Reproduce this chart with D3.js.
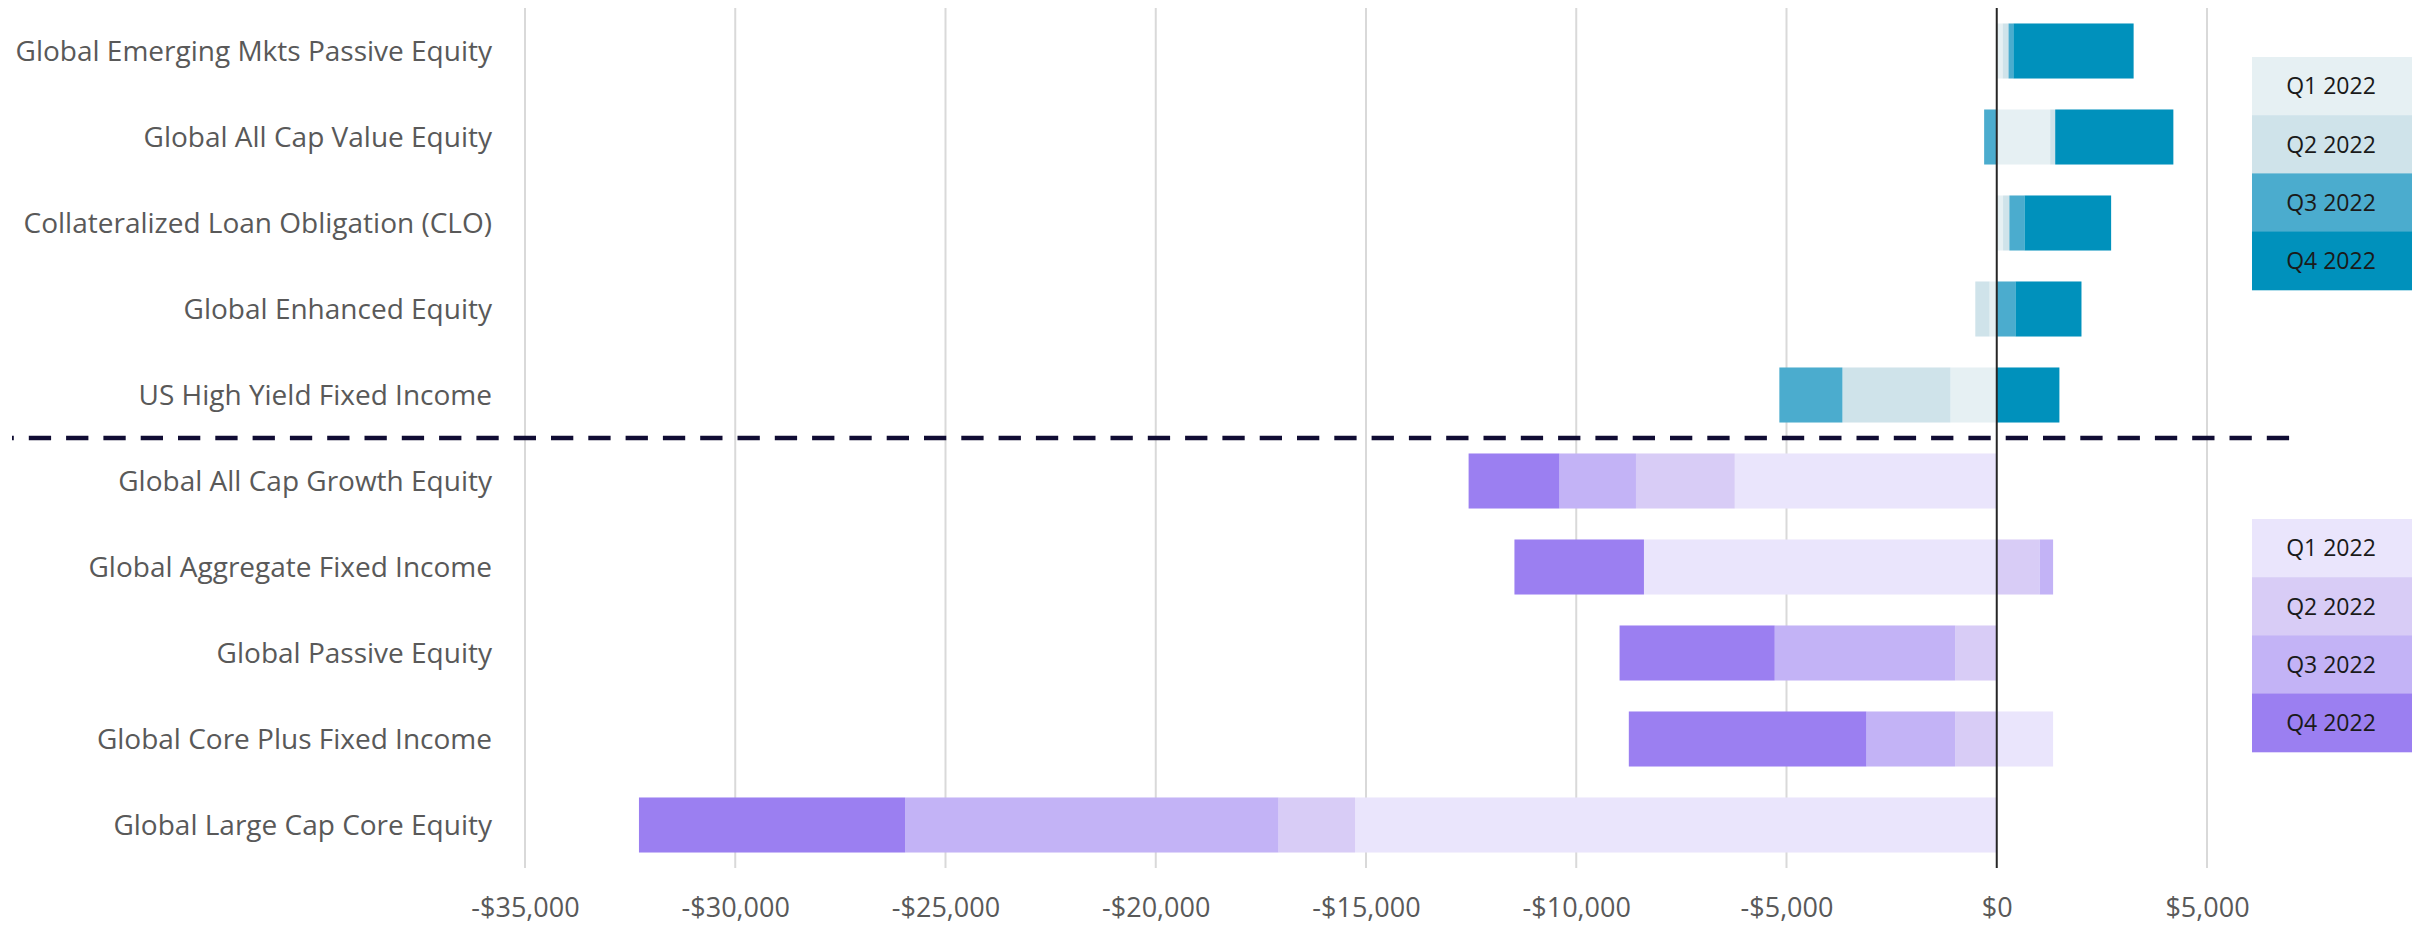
<!DOCTYPE html>
<html>
<head>
<meta charset="utf-8">
<script src="https://cdn.jsdelivr.net/npm/d3@7"></script>
<style>
  body { margin: 0; background: #fff; }
  text { font-family: "Open Sans", sans-serif; }
</style>
</head>
<body>
<div id="chart"></div>
<script>
// categories top to bottom
var categories = [
    "Global Emerging Mkts Passive Equity",
    "Global All Cap Value Equity",
    "Collateralized Loan Obligation (CLO)",
    "Global Enhanced Equity",
    "US High Yield Fixed Income",
    "Global All Cap Growth Equity",
    "Global Aggregate Fixed Income",
    "Global Passive Equity",
    "Global Core Plus Fixed Income",
    "Global Large Cap Core Equity"
];
var quarters = ["Q1 2022", "Q2 2022", "Q3 2022", "Q4 2022"];
var q1 = [140, 1270, 150, -170, -1100, -6230, -8390, 0, 1340, -15260];
var q2 = [140, 120, 150, -340, -2570, -2350, 1020, -990, -990, -1820];
var q3 = [115, -300, 360, 445, -1500, -1820, 320, -4290, -2110, -8880];
var q4 = [2860, 2810, 2060, 1570, 1490, -2160, -3080, -3690, -5650, -6330];
var groupOf = ["top", "top", "top", "top", "top", "bottom", "bottom", "bottom", "bottom", "bottom"];
var xTicks = [-35000, -30000, -25000, -20000, -15000, -10000, -5000, 0, 5000];

var palettes = {
    top: ["#e6f0f3", "#cfe3ea", "#4bacce", "#0091bc"],
    bottom: ["#eae5fc", "#d8ccf6", "#c3b3f6", "#9b7ff1"]
};

function init() {
    var W = 2412, H = 926;
    var plotTop = 8, plotBottom = 868;

    var svg = d3.select("#chart").append("svg")
        .attr("width", W)
        .attr("height", H);

    var rows = categories.map((c, i) => ({
        cat: c, group: groupOf[i],
        "Q1 2022": q1[i], "Q2 2022": q2[i], "Q3 2022": q3[i], "Q4 2022": q4[i]
    }));

    var x = d3.scaleLinear().domain([-35000, 5000]).range([525, 2207]);
    var y = d3.scaleBand().domain(categories).range([plotTop, plotBottom])
        .paddingInner(0.36).paddingOuter(0.18);

    // gridlines
    svg.append("g")
        .selectAll("line")
        .data(xTicks.filter(d => d !== 0))
        .join("line")
        .attr("x1", d => x(d)).attr("x2", d => x(d))
        .attr("y1", plotTop).attr("y2", plotBottom)
        .attr("stroke", "#d9d9d9")
        .attr("stroke-width", 2);

    // stacked bars (negatives and positives stack away from zero)
    var series = d3.stack().keys(quarters).offset(d3.stackOffsetDiverging)(rows);

    series.forEach((s, qi) => {
        svg.append("g")
            .selectAll("rect")
            .data(s)
            .join("rect")
            .attr("x", d => x(Math.min(d[0], d[1])))
            .attr("width", d => Math.abs(x(d[1]) - x(d[0])))
            .attr("y", d => y(d.data.cat))
            .attr("height", y.bandwidth())
            .attr("fill", d => palettes[d.data.group][qi]);
    });

    // zero line
    svg.append("line")
        .attr("x1", x(0)).attr("x2", x(0))
        .attr("y1", plotTop).attr("y2", plotBottom)
        .attr("stroke", "#262626")
        .attr("stroke-width", 2);

    // divider between the two groups
    var divY = (y(categories[4]) + y.bandwidth() + y(categories[5])) / 2;
    svg.append("line")
        .attr("x1", 12).attr("x2", 2292)
        .attr("y1", divY).attr("y2", divY)
        .attr("stroke", "#100c33")
        .attr("stroke-width", 4.5)
        .attr("stroke-dasharray", "22.3,15")
        .attr("stroke-dashoffset", 20.5);

    // category labels
    svg.append("g")
        .selectAll("text")
        .data(categories)
        .join("text")
        .attr("x", 492)
        .attr("y", d => y(d) + y.bandwidth() / 2)
        .attr("dy", "0.35em")
        .attr("text-anchor", "end")
        .attr("fill", "#595959")
        .style("font-size", "28px")
        .text(d => d);

    // x axis labels
    var fmt = d3.format(",");
    var xAxis = svg.append("g")
        .attr("transform", `translate(0, ${plotBottom})`)
        .call(d3.axisBottom(x).tickValues(xTicks).tickSize(0).tickPadding(30)
            .tickFormat(d => (d < 0 ? "-" : "") + "$" + fmt(Math.abs(d))));
    xAxis.select(".domain").remove();
    xAxis.selectAll("text")
        .attr("fill", "#595959")
        .style("font-family", "'Open Sans', sans-serif")
        .style("font-size", "27px");

    // legends
    var legendTops = { top: 57, bottom: 519 };
    var boxH = 58.2;
    Object.keys(legendTops).forEach(g => {
        var lg = svg.append("g")
            .attr("transform", `translate(2252, ${legendTops[g]})`);
        lg.selectAll("rect")
            .data(quarters)
            .join("rect")
            .attr("x", 0)
            .attr("y", (d, i) => i * boxH)
            .attr("width", 160)
            .attr("height", boxH + 0.5)
            .attr("fill", (d, i) => palettes[g][i]);
        lg.selectAll("text")
            .data(quarters)
            .join("text")
            .attr("x", 79)
            .attr("y", (d, i) => i * boxH + boxH / 2)
            .attr("dy", "0.36em")
            .attr("text-anchor", "middle")
            .attr("fill", "#1a1a1a")
            .style("font-size", "23px")
            .text(d => d);
    });
}

window.onload = init;
</script>
</body>
</html>
